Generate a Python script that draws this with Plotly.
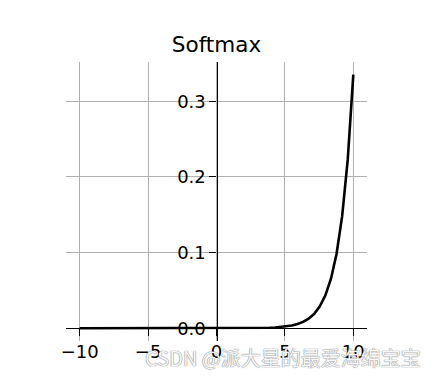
import plotly.graph_objects as go

x_vals = [-10.000, -9.592, -9.184, -8.776, -8.367, -7.959, -7.551, -7.143, -6.735, -6.327,
          -5.918, -5.510, -5.102, -4.694, -4.286, -3.878, -3.469, -3.061, -2.653, -2.245,
          -1.837, -1.429, -1.020, -0.612, -0.204, 0.204, 0.612, 1.020, 1.429, 1.837,
          2.245, 2.653, 3.061, 3.469, 3.878, 4.286, 4.694, 5.102, 5.510, 5.918,
          6.327, 6.735, 7.143, 7.551, 7.959, 8.367, 8.776, 9.184, 9.592, 10.000]
y_vals = [0.0] * 24 + [0.00001, 0.00002, 0.00003, 0.00004, 0.00006, 0.00010,
                       0.00014, 0.00022, 0.00033, 0.00049, 0.00073, 0.00111,
                       0.00166, 0.00250, 0.00376, 0.00566, 0.00851, 0.01280,
                       0.01925, 0.02895, 0.04354, 0.06549, 0.09850, 0.14814,
                       0.22282, 0.33513]

x_ticks = [-10, -5, 0, 5, 10]
x_tick_text = ["\u221210", "\u22125", "0", "5", "10"]
y_ticks = [0.0, 0.1, 0.2, 0.3]
y_tick_text = ["0.0", "0.1", "0.2", "0.3"]
title_text = "Softmax"
watermark = "CSDN @派大星的最爱海绵宝宝"

ymax = max(y_vals)
pad = 0.05 * ymax
y_range = [-pad, ymax + pad]
x_range = [-11, 11]

fig = go.Figure()
fig.add_trace(go.Scatter(x=x_vals, y=y_vals, mode="lines",
                         line=dict(color="black", width=2.6), hoverinfo="skip"))

font = dict(family="DejaVu Sans", size=18, color="black")
fig.update_layout(
    width=436, height=377,
    margin=dict(l=66, r=69, t=62, b=36),
    paper_bgcolor="white", plot_bgcolor="white",
    showlegend=False,
    font=font,
    title=dict(text=title_text, x=0.5, xanchor="center", xref="paper",
               y=1, yref="paper", yanchor="bottom", pad=dict(b=10),
               font=dict(family="DejaVu Sans", size=21.5, color="black")),
    xaxis=dict(range=x_range, tickvals=x_ticks, ticktext=x_tick_text,
               showgrid=True, gridcolor="#b0b0b0", gridwidth=1,
               zeroline=False, showline=True, linecolor="black", linewidth=1.2,
               ticks="outside", ticklen=7, tickwidth=1.2, tickcolor="black",
               anchor="free", position=pad / (y_range[1] - y_range[0]),
               tickfont=font),
    yaxis=dict(range=y_range, tickvals=y_ticks, ticktext=y_tick_text,
               showgrid=True, gridcolor="#b0b0b0", gridwidth=1,
               zeroline=False, showline=True, linecolor="black", linewidth=1.2,
               ticks="outside", ticklen=7, tickwidth=1.2, tickcolor="black",
               anchor="free", position=0.5,
               tickfont=font),
)

fig.add_annotation(text=watermark, xref="paper", yref="paper",
                   x=1.185, y=-0.06, xanchor="right", yanchor="middle",
                   showarrow=False,
                   font=dict(family="Noto Sans CJK SC", size=20, color="rgba(255,255,255,0.95)",
                             shadow="0px 0px 1px #777, 0px 0px 1px #777"))

fig.write_html("out.html")
